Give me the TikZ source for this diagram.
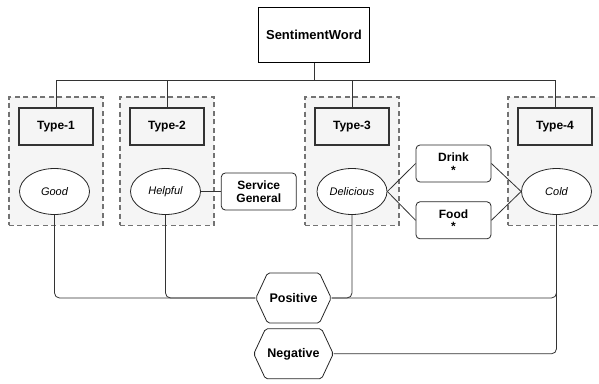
\documentclass[tikz,border=0pt]{standalone}
\usepackage{fontspec}
\setmainfont{Liberation Sans}
\usetikzlibrary{positioning, shapes.geometric, shapes.symbols, backgrounds, fit}

\begin{document}
\begin{tikzpicture}[x=1pt, y=-1pt,
  typebox/.style={draw=black!80, line width=1.2pt, minimum width=74pt, minimum height=37pt, inner sep=2pt, font=\fontsize{12}{14}\selectfont\bfseries},
  rootbox/.style={typebox, draw=black, line width=1.7pt, minimum width=111pt, minimum height=55pt, font=\fontsize{13}{15}\selectfont\bfseries},
  wordnode/.style={draw=black!85, ellipse, line width=0.8pt, minimum width=70pt, minimum height=46pt, inner sep=1pt, fill=white, font=\fontsize{11}{13}\selectfont\itshape},
  aspectbox/.style={draw=black!85, rounded corners=4pt, line width=0.8pt, minimum width=75pt, minimum height=37pt, inner sep=2pt, align=center, fill=white, font=\fontsize{12}{12.5}\selectfont\bfseries},
  polarity/.style={draw=black!85, signal, signal to=west and east, signal pointer angle=130, line width=0.8pt, minimum width=73pt, minimum height=50pt, inner sep=2pt, rounded corners=2pt, fill=white, font=\fontsize{12.5}{14}\selectfont\bfseries},
  groupbg/.style={draw=black!55, dash pattern=on 5pt off 3.5pt, line width=1.3pt, fill=black!4, inner xsep=9.5pt, inner ysep=10.5pt},
  link/.style={draw=black!80, line width=0.8pt},
  bus/.style={link, rounded corners=5pt}
]
\useasboundingbox (0,0) rectangle (599,383);

% root and sentiment types
\node[rootbox] (word) at (314,35) {SentimentWord};
\coordinate (split) at (314,80);

\node[typebox] (type1) at (56,126.5) {Type-1};
\node[typebox] (type2) at (167,126.5) {Type-2};
\node[typebox] (type3) at (352,126.5) {Type-3};
\node[typebox] (type4) at (555,126.5) {Type-4};

% example words
\node[wordnode, below=22.5pt of type1, xshift=-1.5pt] (good) {Good};
\node[wordnode, below=22.5pt of type2, xshift=-1.5pt] (helpful) {Helpful};
\node[wordnode, below=22.5pt of type3] (delicious) {Delicious};
\node[wordnode, below=22.5pt of type4, xshift=1.5pt] (cold) {Cold};

% aspects
\node[aspectbox, right=20pt of helpful] (service) {Service\\General};
\node[aspectbox] (drink) at (453.5,163.5) {Drink\\*};
\node[aspectbox, below=19pt of drink] (food) {Food\\*};

% polarities
\node[polarity] (pos) at (293.5,298) {Positive};
\node[polarity, below=5pt of pos] (neg) {Negative};

\begin{scope}[on background layer]
  \node[groupbg, fit=(type1)(good)] (grp1) {};
  \node[groupbg, fit=(type2)(helpful)] (grp2) {};
  \node[groupbg, fit=(type3)(delicious)] (grp3) {};
  \node[groupbg, fit=(type4)(cold)] (grp4) {};
\end{scope}

\draw[link] (word.south) -- (split);
\foreach \t in {type1,type2,type3,type4}
  \draw[link] (\t.north) |- (split);

\draw[link] (helpful.east) -- (service.west);
\draw[link] (delicious.east) -- (drink.west);
\draw[link] (delicious.east) -- (food.west);
\draw[link] (drink.east) -- (cold.west);
\draw[link] (food.east) -- (cold.west);

\draw[bus] (good.south) |- (pos.west);
\draw[bus] (helpful.south) |- (pos.west);
\draw[bus] (delicious.south) |- (pos.east);
\draw[bus] (cold.south) |- (pos.east);
\draw[bus] (cold.south) |- (neg.east);
\end{tikzpicture}
\end{document}
